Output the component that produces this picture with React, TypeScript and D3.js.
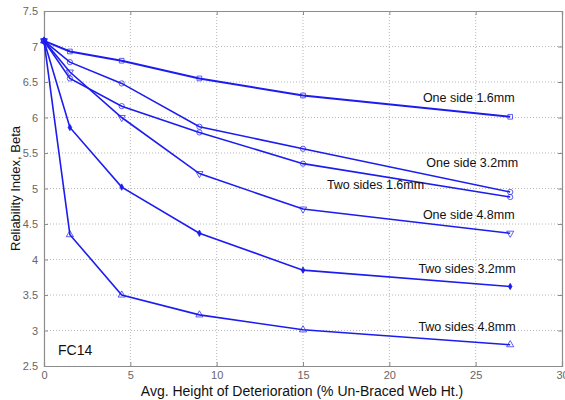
import React, { useEffect, useRef } from 'react';
import * as d3 from 'd3';

// deterioration heights (% of un-braced web height)
const heights = [0, 1.5, 4.5, 9, 15, 27];

const seriesNames = [
  'One side 1.6mm',
  'One side 3.2mm',
  'Two sides 1.6mm',
  'One side 4.8mm',
  'Two sides 3.2mm',
  'Two sides 4.8mm',
];

const oneSide16 = [7.08, 6.93, 6.8, 6.55, 6.31, 6.01];
const oneSide32 = [7.08, 6.78, 6.48, 5.87, 5.56, 4.95];
const twoSides16 = [7.08, 6.55, 6.16, 5.79, 5.35, 4.88];
const oneSide48 = [7.08, 6.64, 6.0, 5.21, 4.71, 4.37];
const twoSides32 = [7.08, 5.86, 5.02, 4.37, 3.85, 3.62];
const twoSides48 = [7.08, 4.35, 3.5, 3.22, 3.01, 2.8];

// label anchor points (data units) for the inline series labels
const labelX = [24.6, 24.8, 19.2, 24.6, 24.5, 24.5];
const labelY = [6.22, 5.3, 4.99, 4.57, 3.81, 2.99];

const xTicks = [0, 5, 10, 15, 20, 25, 30];
const yTicks = [2.5, 3, 3.5, 4, 4.5, 5, 5.5, 6, 6.5, 7, 7.5];

function App() {
  const svgRef = useRef<SVGSVGElement>(null);

  useEffect(() => {
    const svg = d3.select(svgRef.current);
    svg.selectAll('*').remove();

    const W = 565, H = 400;
    const m = { top: 11, right: 3, bottom: 34, left: 44 };
    const iw = W - m.left - m.right;
    const ih = H - m.top - m.bottom;

    const x = d3.scaleLinear().domain([0, 30]).range([0, iw]);
    const y = d3.scaleLinear().domain([2.5, 7.5]).range([ih, 0]);

    svg.append('rect').attr('width', W).attr('height', H).attr('fill', '#fff');

    const g = svg.append('g').attr('transform', `translate(${m.left},${m.top})`);

    // dotted grid
    g.selectAll('.gx')
      .data(xTicks.slice(1, -1))
      .enter().append('line')
      .attr('x1', d => x(d)).attr('x2', d => x(d))
      .attr('y1', 0).attr('y2', ih)
      .attr('stroke', '#b8b8b8').attr('stroke-dasharray', '1,2');
    g.selectAll('.gy')
      .data(yTicks.slice(1, -1))
      .enter().append('line')
      .attr('y1', d => y(d)).attr('y2', d => y(d))
      .attr('x1', 0).attr('x2', iw)
      .attr('stroke', '#b8b8b8').attr('stroke-dasharray', '1,2');

    // frame with inward ticks on all sides
    const axisColor = '#8c8c8c';
    const fontFam = 'Liberation Sans, Arial, sans-serif';
    const xb = g.append('g').attr('transform', `translate(0,${ih})`)
      .call(d3.axisBottom(x).tickValues(xTicks).tickSize(-4).tickPadding(5).tickFormat(d3.format('d')));
    const xt = g.append('g')
      .call(d3.axisTop(x).tickValues(xTicks).tickSize(-4).tickFormat(() => ''));
    const yl = g.append('g')
      .call(d3.axisLeft(y).tickValues(yTicks).tickSize(-4).tickPadding(6).tickFormat(d3.format('')));
    const yr = g.append('g').attr('transform', `translate(${iw},0)`)
      .call(d3.axisRight(y).tickValues(yTicks).tickSize(-4).tickFormat(() => ''));
    [xb, xt, yl, yr].forEach(a => {
      a.select('.domain').attr('stroke', axisColor).attr('stroke-width', 1.2);
      a.selectAll('.tick line').attr('stroke', axisColor);
      a.selectAll('.tick text').attr('fill', '#666').attr('font-size', 11).attr('font-family', fontFam);
    });

    const allSeries = [oneSide16, oneSide32, twoSides16, oneSide48, twoSides32, twoSides48];
    const symbols = [d3.symbolSquare, d3.symbolCircle, d3.symbolCircle, d3.symbolTriangle, d3.symbolDiamond, d3.symbolTriangle];
    const rotations = [0, 0, 0, 180, 0, 0];
    const blue = '#1c1cf0';

    const line = d3.line<number>()
      .x((_, i) => x(heights[i]))
      .y(d => y(d));

    allSeries.forEach((vals, si) => {
      g.append('path')
        .datum(vals)
        .attr('d', line)
        .attr('fill', 'none')
        .attr('stroke', blue)
        .attr('stroke-width', si === 0 ? 2 : 1.6);
      g.selectAll(`.mk${si}`)
        .data(vals)
        .enter().append('path')
        .attr('transform', (d, i) => `translate(${x(heights[i])},${y(d)}) rotate(${rotations[si]})`)
        .attr('d', d3.symbol().type(symbols[si]).size(si === 4 ? 12 : 22))
        .attr('fill', si === 4 ? blue : 'none')
        .attr('stroke', blue)
        .attr('stroke-opacity', 0.7)
        .attr('stroke-width', 1);
    });

    // inline series labels
    seriesNames.forEach((name, i) => {
      g.append('text')
        .attr('x', x(labelX[i]))
        .attr('y', y(labelY[i]))
        .attr('text-anchor', 'middle')
        .attr('font-size', 12.5)
        .attr('font-family', fontFam)
        .attr('fill', '#111')
        .text(name);
    });

    g.append('text')
      .attr('x', 14).attr('y', ih - 11)
      .attr('font-size', 14).attr('font-family', fontFam).attr('fill', '#111')
      .text('FC14');

    svg.append('text')
      .attr('x', 302).attr('y', 396)
      .attr('text-anchor', 'middle')
      .attr('font-size', 14).attr('font-family', fontFam).attr('fill', '#111')
      .text('Avg. Height of Deterioration (% Un-Braced Web Ht.)');

    svg.append('text')
      .attr('transform', `translate(20,${m.top + ih / 2}) rotate(-90)`)
      .attr('text-anchor', 'middle')
      .attr('font-size', 13).attr('font-family', fontFam).attr('fill', '#111')
      .text('Reliability Index, Beta');
  }, []);

  return (
    <svg ref={svgRef} width={565} height={400}
      style={{ position: 'absolute', left: 0, top: 0, display: 'block' }} />
  );
}

export default App;
